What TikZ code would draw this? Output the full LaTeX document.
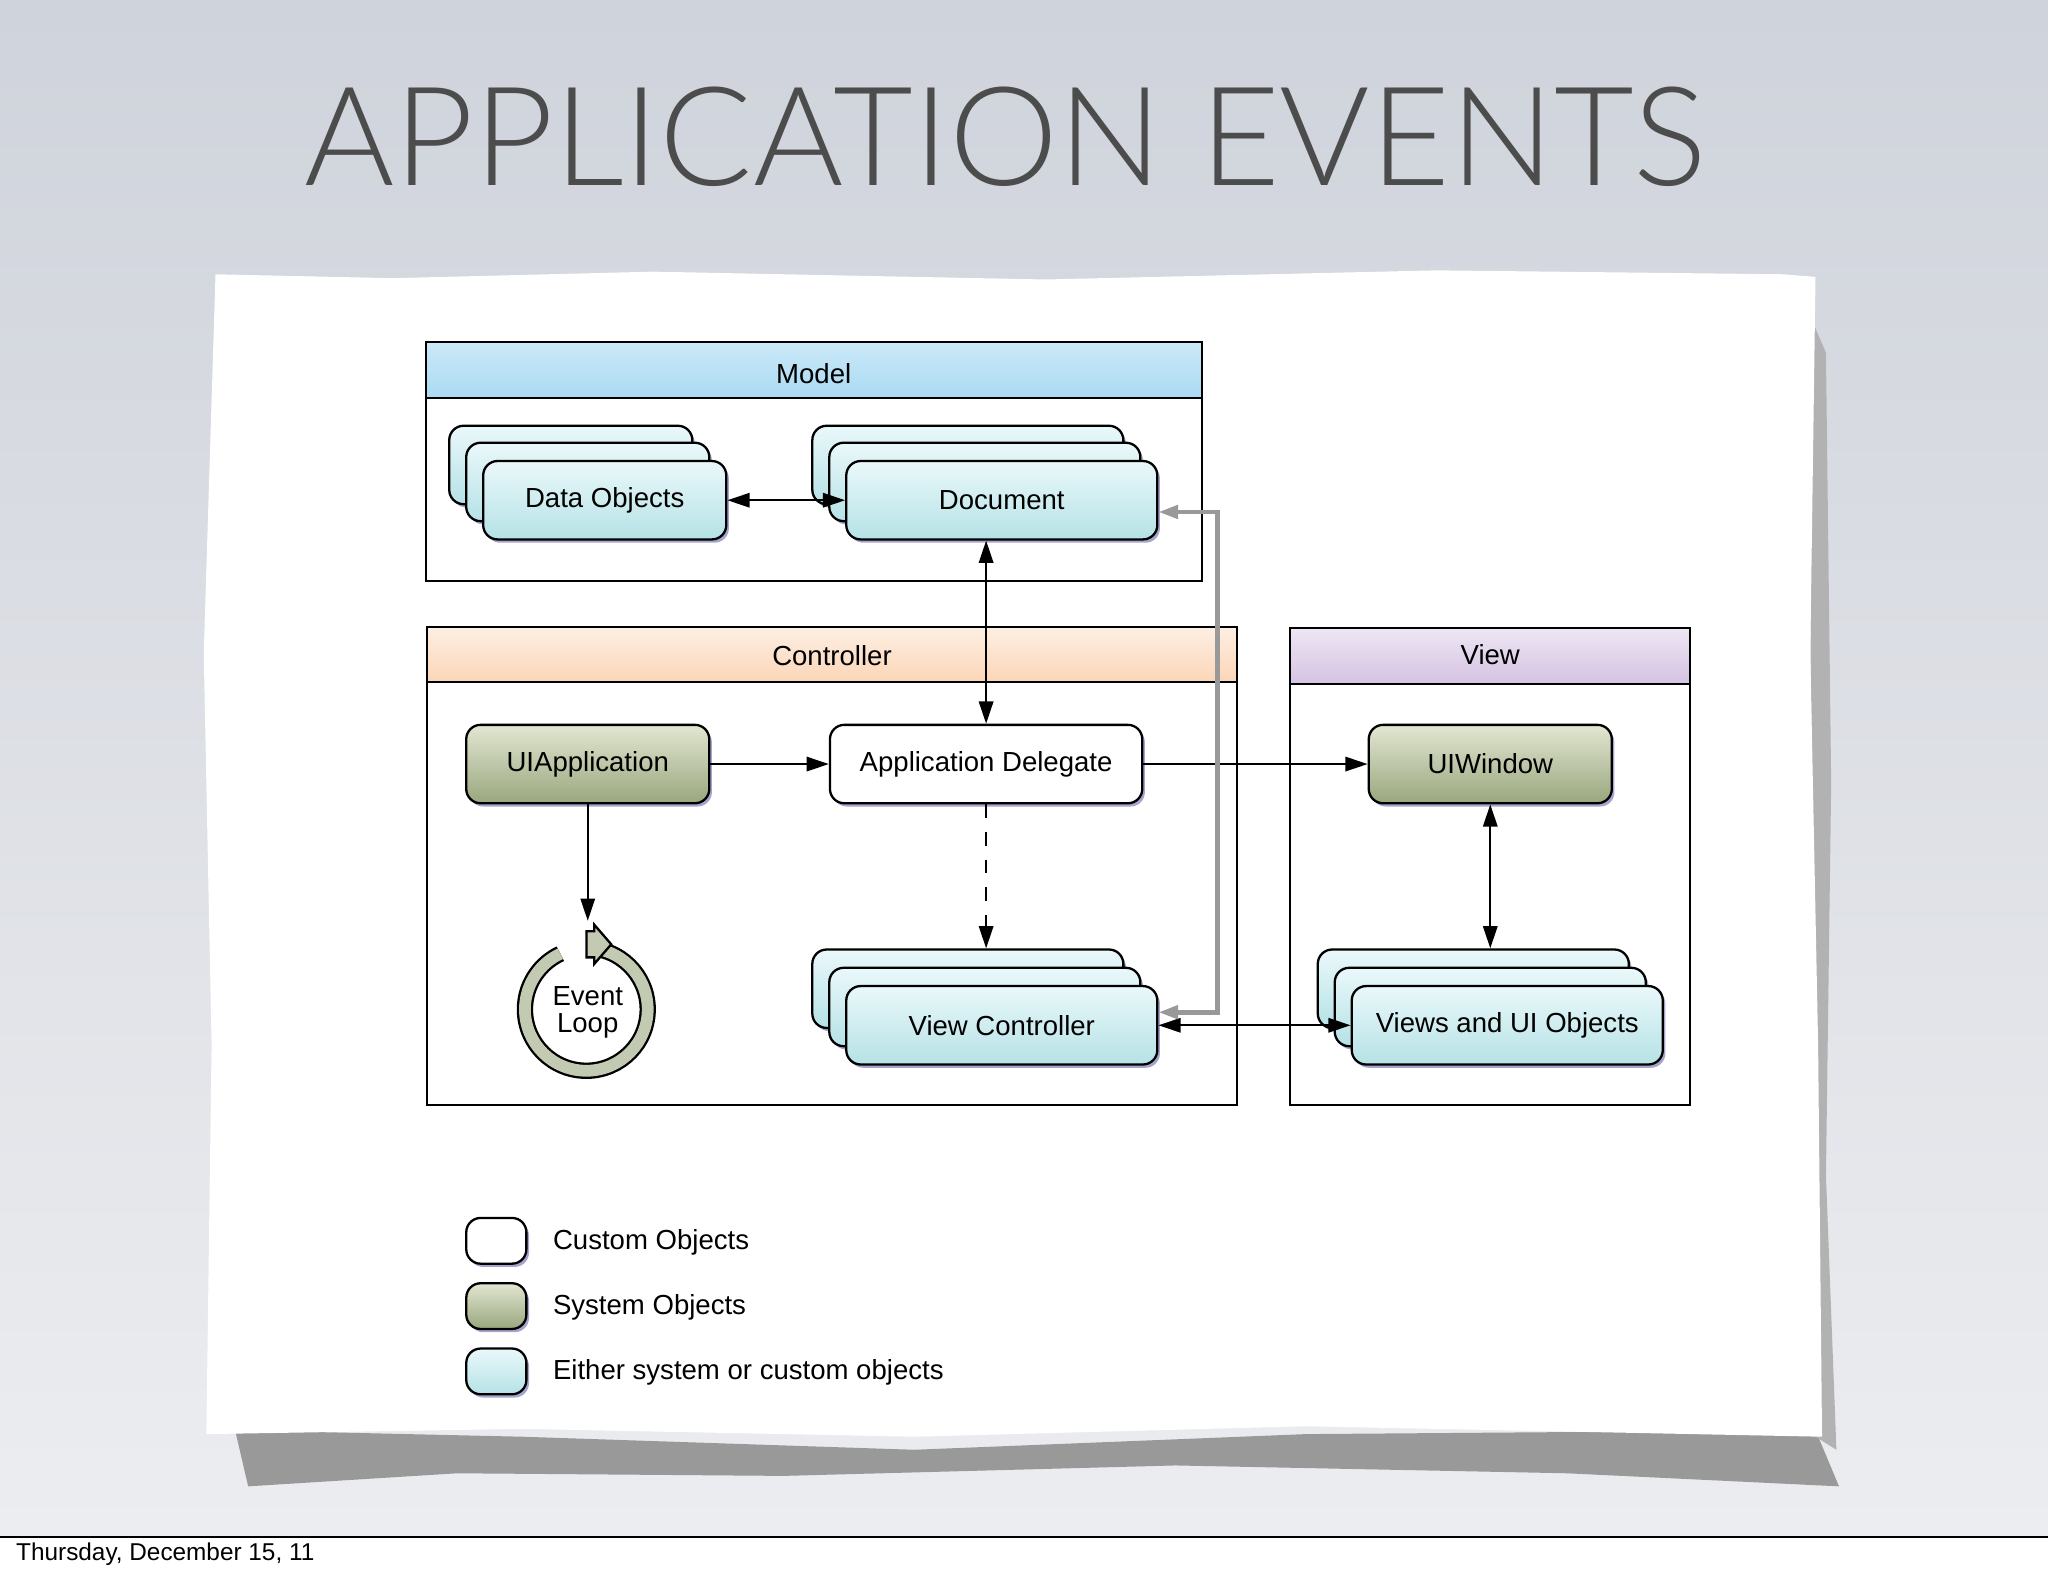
\documentclass[tikz,border=0pt]{standalone}
\usepackage{fontspec}
\setmainfont{Liberation Sans}
\newfontfamily\titlefont{Lato Light}
\usetikzlibrary{arrows.meta,shadows}
\definecolor{bgtop}{HTML}{CFD3DB}
\definecolor{bgbot}{HTML}{ECEDF0}
\definecolor{cyanA}{HTML}{EAF8FA}
\definecolor{cyanB}{HTML}{B5E2E6}
\definecolor{oliveA}{HTML}{E2E7D2}
\definecolor{oliveB}{HTML}{99A67D}
\definecolor{blueH}{HTML}{A9DAF3}
\definecolor{orangeH}{HTML}{FBD6B8}
\definecolor{purpleH}{HTML}{D4C2E2}
\definecolor{shade}{HTML}{8E8EC0}
\begin{document}
\begin{tikzpicture}[x=0.01cm,y=-0.01cm,
  card/.style={draw=black,line width=0.5pt,rounded corners=0.11cm,minimum width=1.86cm,minimum height=0.6cm,font=\fontsize{6pt}{7pt}\selectfont,
     drop shadow={shadow xshift=0.02cm,shadow yshift=-0.025cm,fill=shade,opacity=0.8}},
  ccyan/.style={card,top color=cyanA,bottom color=cyanB},
  colive/.style={card,top color=oliveA,bottom color=oliveB},
  cwhite/.style={card,fill=white},
  group/.style={draw=black,line width=0.45pt,fill=white},
  arr/.style={line width=0.45pt,-{Triangle[length=0.17cm,width=0.11cm]}},
  darr/.style={line width=0.45pt,{Triangle[length=0.17cm,width=0.11cm]}-{Triangle[length=0.17cm,width=0.11cm]}},
  lbl/.style={font=\fontsize{6pt}{7pt}\selectfont,anchor=west}]
\useasboundingbox (0,0) rectangle (1568,1207);
\shade[top color=bgtop,bottom color=bgbot] (0,0) rectangle (1568,1177);
\fill[color=white] (0,1177) rectangle (1568,1207);
\draw[line width=0.4pt] (0,1177) -- (1568,1177);
\node[anchor=west,font=\fontsize{5.3pt}{6pt}\selectfont] (date) at (0,1190) {Thursday, December 15, 11};
\node[font=\titlefont\fontsize{30pt}{32pt}\selectfont,text=black!70] (title) at (770,105) {APPLICATION EVENTS};
% paper shadow and paper
\fill[black!40] (180,1095) -- (400,1100) -- (700,1110) -- (1000,1098) -- (1390,1095) -- (1408,1138) -- (1200,1128) -- (900,1122) -- (600,1130) -- (350,1128) -- (190,1138) -- cycle;
\fill[black!30] (1385,240) -- (1398,270) -- (1402,600) -- (1398,900) -- (1406,1110) -- (1390,1100) -- cycle;
\fill[color=white] (165,210) -- (300,213) -- (500,208) -- (800,214) -- (1100,207) -- (1365,210) -- (1390,212) -- (1386,500) -- (1392,800) -- (1395,1100) -- (1000,1092) -- (700,1100) -- (400,1094) -- (158,1098) -- (162,800) -- (156,500) -- cycle;
% Model
\draw[group] (326,262) rectangle (920,445);
\shade[top color=blueH!60,bottom color=blueH,draw=black,line width=0.45pt] (326,262) rectangle (920,305);
\node[font=\fontsize{6pt}{7pt}\selectfont] (mlabel) at (623,286) {Model};
% Controller
\draw[group] (327,480) rectangle (947,846);
\shade[top color=orangeH!40,bottom color=orangeH,draw=black,line width=0.45pt] (327,480) rectangle (947,522);
\node[font=\fontsize{6pt}{7pt}\selectfont] (clabel) at (637,502) {Controller};
% View
\draw[group] (988,481) rectangle (1294,846);
\shade[top color=purpleH!40,bottom color=purpleH,draw=black,line width=0.45pt] (988,481) rectangle (1294,524);
\node[font=\fontsize{6pt}{7pt}\selectfont] (vlabel) at (1141,501) {View};
% stacks
\node[ccyan] (d3) at (437,356) {};
\node[ccyan] (d2) at (450,369) {};
\node[ccyan] (data) at (463,383) {Data Objects};
\node[ccyan,minimum width=2.38cm] (doc3) at (741,356) {};
\node[ccyan,minimum width=2.38cm] (doc2) at (754,369) {};
\node[ccyan,minimum width=2.38cm] (doc) at (767,383) {Document};
\node[colive] (uiapp) at (450,585) {UIApplication};
\node[cwhite,minimum width=2.39cm] (appdel) at (755,585) {Application Delegate};
\node[colive] (uiwin) at (1141,585) {UIWindow};
\node[ccyan,minimum width=2.38cm] (vc3) at (741,757) {};
\node[ccyan,minimum width=2.38cm] (vc2) at (754,771) {};
\node[ccyan,minimum width=2.38cm] (vc) at (767,785) {View Controller};
\node[ccyan,minimum width=2.38cm] (v3) at (1128,757) {};
\node[ccyan,minimum width=2.38cm] (v2) at (1141,771) {};
\node[ccyan,minimum width=2.38cm] (views) at (1154,785) {Views and UI Objects};
% event loop
\draw[line width=0.5pt,double=oliveB!60,double distance=0.09cm] (453,726) arc[start angle=-85,end angle=245,radius=47];
\fill[oliveB!60,draw=black,line width=0.5pt] (449,713) -- (455,713) -- (455,708) -- (468,723) -- (455,738) -- (455,733) -- (449,733) -- cycle;
\node[align=center,font=\fontsize{6pt}{6pt}\selectfont,inner sep=0pt] (loop) at (450,775) {Event\\Loop};
\coordinate (looptop) at (450,705);
% connectors
\draw[darr] (data.east) -- (doc.west);
\draw[darr] (doc.south -| appdel.north) -- (appdel.north);
\draw[arr] (uiapp.east) -- (appdel.west);
\draw[arr] (appdel.east) -- (uiwin.west);
\draw[arr] (uiapp.south) -- (looptop);
\draw[arr,dashed] (appdel.south) -- (vc3.north -| appdel.south);
\draw[darr] (uiwin.south) -- (v3.north -| uiwin.south);
\draw[darr] (vc.east) -- (views.west);
\coordinate (g1) at (932,392);
\coordinate (g2) at (932,775);
\draw[darr,draw=black!40,line width=1pt,{Triangle[length=0.15cm,width=0.1cm,fill=black!40]}-{Triangle[length=0.15cm,width=0.1cm,fill=black!40]}] (doc.east |- g1) -- (g1) -- (g2) -- (vc.east |- g2);
% legend
\node[cwhite,minimum width=0.46cm,minimum height=0.35cm] (k1) at (380,950) {};
\node[colive,minimum width=0.46cm,minimum height=0.35cm] (k2) at (380,1000) {};
\node[ccyan,minimum width=0.46cm,minimum height=0.35cm] (k3) at (380,1050) {};
\node[lbl] (t1) at (411,951) {Custom Objects};
\node[lbl] (t2) at (411,1001) {System Objects};
\node[lbl] (t3) at (411,1051) {Either system or custom objects};
\end{tikzpicture}
\end{document}
